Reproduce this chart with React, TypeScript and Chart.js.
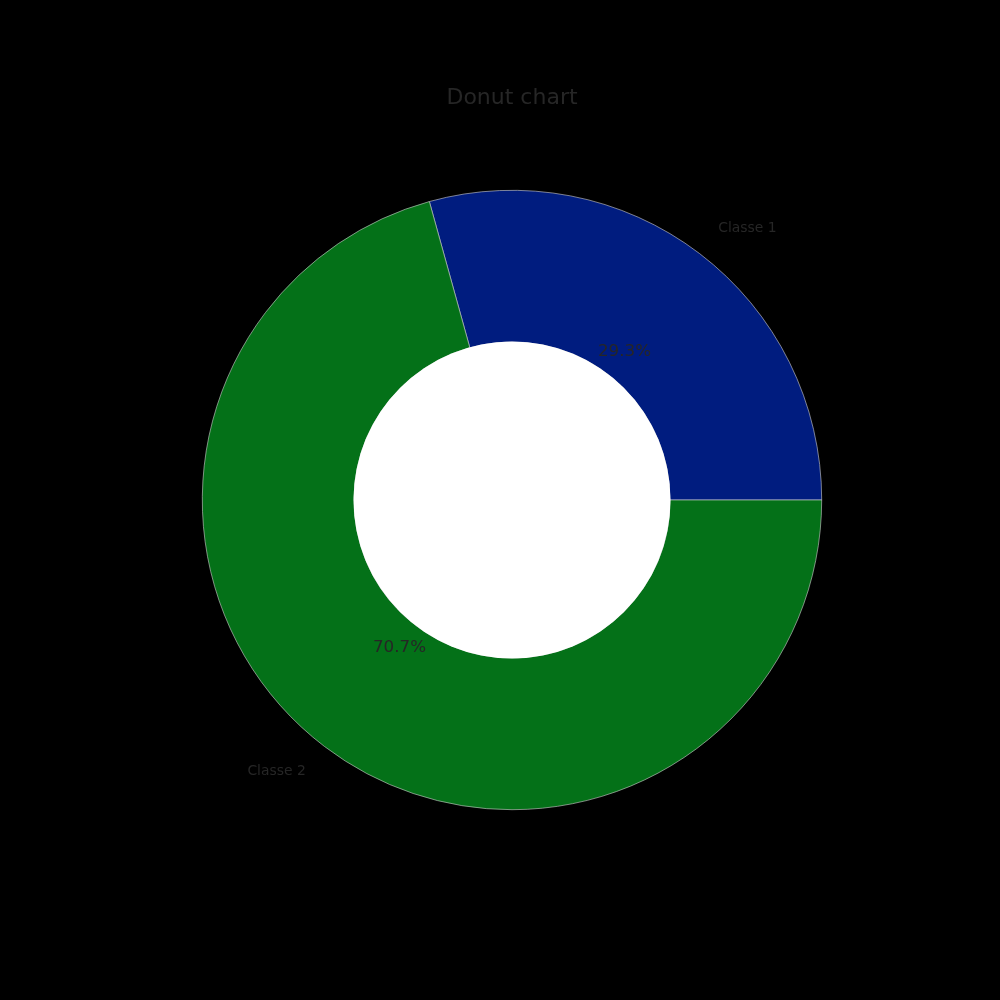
import React, { useEffect, useRef } from "react";
import { Chart, registerables } from "chart.js";

Chart.register(...registerables);

const categories = ["Classe 1", "Classe 2"];
const values = [29.3, 70.7];
const colors = ["#001c7f", "#047118"];
const titleText = "Donut chart";

export default function App() {
  const ref = useRef<HTMLCanvasElement | null>(null);

  useEffect(() => {
    document.body.style.margin = "0";
    document.body.style.background = "#000000";
    const canvas = ref.current!;
    const total = values.reduce((a, b) => a + b, 0);
    const rotation = 90 - (values[0] / total) * 360;

    const textPlugin = {
      id: "donutText",
      afterDatasetsDraw(chart: any) {
        const ctx = chart.ctx as CanvasRenderingContext2D;
        const meta = chart.getDatasetMeta(0);
        const first = meta.data[0] as any;
        const cx = first.x;
        const cy = first.y;
        const R = first.outerRadius;
        const r = first.innerRadius;
        ctx.save();
        ctx.fillStyle = "#ffffff";
        ctx.beginPath();
        ctx.arc(cx, cy, r + 0.5, 0, Math.PI * 2);
        ctx.fill();

        ctx.fillStyle = "#262626";
        ctx.textBaseline = "middle";
        ctx.font = '22px "DejaVu Sans"';
        ctx.textAlign = "center";
        ctx.fillText(titleText, cx, 98);

        meta.data.forEach((arc: any, i: number) => {
          const mid = (arc.startAngle + arc.endAngle) / 2;
          const cos = Math.cos(mid);
          const sin = Math.sin(mid);
          ctx.font = '13.9px "DejaVu Sans"';
          ctx.textAlign = cos >= 0 ? "left" : "right";
          ctx.fillText(categories[i], cx + 1.1 * R * cos, cy + 1.1 * R * sin);
          ctx.font = '16.7px "DejaVu Sans"';
          ctx.textAlign = "center";
          const pct = ((values[i] / total) * 100).toFixed(1) + "%";
          ctx.fillText(pct, cx + 0.6 * R * cos, cy + 0.6 * R * sin);
        });
        ctx.restore();
      },
    };

    const chart = new Chart(canvas, {
      type: "doughnut",
      data: {
        labels: categories,
        datasets: [
          {
            data: values,
            backgroundColor: colors,
            borderColor: "#d0d0d0",
            borderWidth: 0.6,
          },
        ],
      },
      options: {
        responsive: false,
        animation: false,
        rotation: rotation,
        cutout: 158,
        layout: { padding: { top: 190, bottom: 190, left: 202, right: 178 } },
        plugins: {
          legend: { display: false },
          tooltip: { enabled: false },
          title: { display: false },
        },
      },
      plugins: [textPlugin],
    });
    return () => chart.destroy();
  }, []);

  return (
    <div style={{ width: 1000, height: 1000, background: "#000000" }}>
      <canvas ref={ref} width={1000} height={1000} style={{ display: "block" }} />
    </div>
  );
}
